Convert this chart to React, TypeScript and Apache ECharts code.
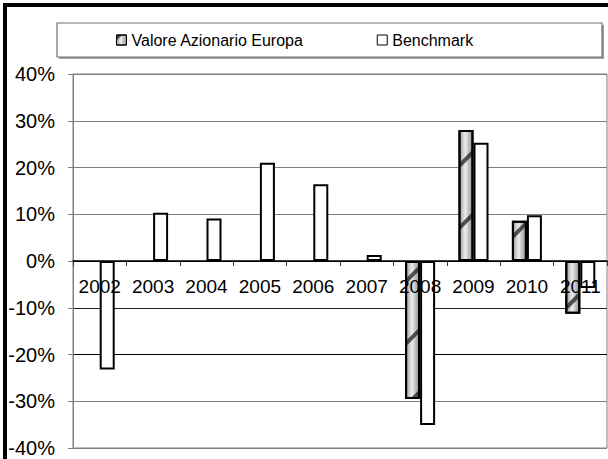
import React, { useEffect, useRef } from "react";
import * as echarts from "echarts";

const categories = ["2002", "2003", "2004", "2005", "2006", "2007", "2008", "2009", "2010", "2011"];
const fundValues = [null, null, null, null, null, null, -29.5, 28.0, 8.6, -11.3];
const benchmarkValues = [-23.2, 10.3, 9.1, 21.0, 16.4, 1.3, -35.1, 25.3, 9.8, -5.8];
const seriesNames = ["Valore Azionario Europa", "Benchmark"];
const yMin = -40;
const yMax = 40;
const yStep = 10;

const FONT = "'Liberation Sans', Arial, sans-serif";

const GRID_TOP = 74;
const GRID_BOTTOM = 11;
const CHART_H = 459;
const PLOT_H = CHART_H - GRID_TOP - GRID_BOTTOM;
const ZERO_OFFSET = -((0 - yMin) / (yMax - yMin)) * PLOT_H;

export default function App() {
  const ref = useRef<HTMLDivElement>(null);
  useEffect(() => {
    if (!ref.current) return;
    const chart = echarts.init(ref.current, undefined, { renderer: "svg" });
    const fundFill = new echarts.graphic.LinearGradient(0, 0, 1, 0, [
      { offset: 0, color: "#a0a0a0" },
      { offset: 0.45, color: "#ececec" },
      { offset: 1, color: "#909090" },
    ]);
    chart.setOption({
      animation: false,
      backgroundColor: "#ffffff",
      textStyle: { fontFamily: FONT, color: "#000" },
      graphic: [
        { type: "rect", shape: { x: 3, y: 3, width: 4, height: 460 }, style: { fill: "#000" }, z: 100 },
        { type: "rect", shape: { x: 3, y: 3, width: 610, height: 4 }, style: { fill: "#000" }, z: 100 },
        { type: "rect", shape: { x: 59, y: 25, width: 545, height: 34 }, style: { fill: "#a0a0a0" }, z: 0 },
        {
          type: "rect",
          shape: { x: 57, y: 23, width: 545, height: 34 },
          style: { fill: "#fff", stroke: "#707070", lineWidth: 1.2 },
          z: 1,
        },
      ],
      legend: {
        data: seriesNames,
        left: 116,
        top: 32,
        padding: 0,
        itemWidth: 10,
        itemHeight: 10,
        itemGap: 73,
        icon: "rect",
        textStyle: { fontFamily: FONT, fontSize: 16, color: "#000" },
        itemStyle: { borderColor: "#000", borderWidth: 1 },
        z: 10,
      },
      grid: {
        left: 73,
        top: GRID_TOP,
        right: 1,
        bottom: GRID_BOTTOM,
        outerBoundsMode: "none",
        containLabel: false,
        show: true,
        borderColor: "#808080",
        borderWidth: 1,
        backgroundColor: "transparent",
      },
      xAxis: {
        type: "category",
        data: categories,
        position: "bottom",
        offset: ZERO_OFFSET,
        axisLine: { onZero: false, lineStyle: { color: "#000", width: 1.5 } },
        axisTick: { show: true, length: 5, lineStyle: { color: "#333" } },
        axisLabel: {
          interval: 0,
          margin: 16,
          fontFamily: FONT,
          fontSize: 19,
          color: "#000",
        },
        splitLine: { show: false },
        z: 5,
      },
      yAxis: {
        type: "value",
        min: yMin,
        max: yMax,
        interval: yStep,
        axisLine: { show: true, lineStyle: { color: "#808080" } },
        axisTick: { show: true, length: 5, lineStyle: { color: "#808080" } },
        axisLabel: {
          formatter: "{value}%",
          margin: 18,
          fontFamily: FONT,
          fontSize: 20,
          color: "#000",
        },
        splitLine: {
          show: true,
          lineStyle: {
            color: ["#808080", "#808080", "#000", "#222", "#000", "#808080", "#808080", "#808080", "#808080"],
            width: 1,
          },
        },
      },
      series: [
        {
          name: seriesNames[0],
          type: "bar",
          data: fundValues,
          barWidth: 15,
          barGap: "0%",
          itemStyle: {
            color: fundFill,
            borderColor: "#000",
            borderWidth: 2,
            decal: {
              symbol: "rect",
              symbolSize: 1,
              dashArrayX: [1, 0],
              dashArrayY: [4, 40],
              rotation: -Math.PI / 4,
              color: "rgba(20,20,20,0.7)",
            },
          },
        },
        {
          name: seriesNames[1],
          type: "bar",
          data: benchmarkValues,
          barWidth: 15,
          barGap: "0%",
          itemStyle: { color: "#fff", borderColor: "#000", borderWidth: 2 },
        },
      ],
    });
    return () => chart.dispose();
  }, []);
  return (
    <div
      ref={ref}
      style={{ position: "absolute", left: 0, top: 0, width: 608, height: 459, background: "#fff" }}
    />
  );
}
